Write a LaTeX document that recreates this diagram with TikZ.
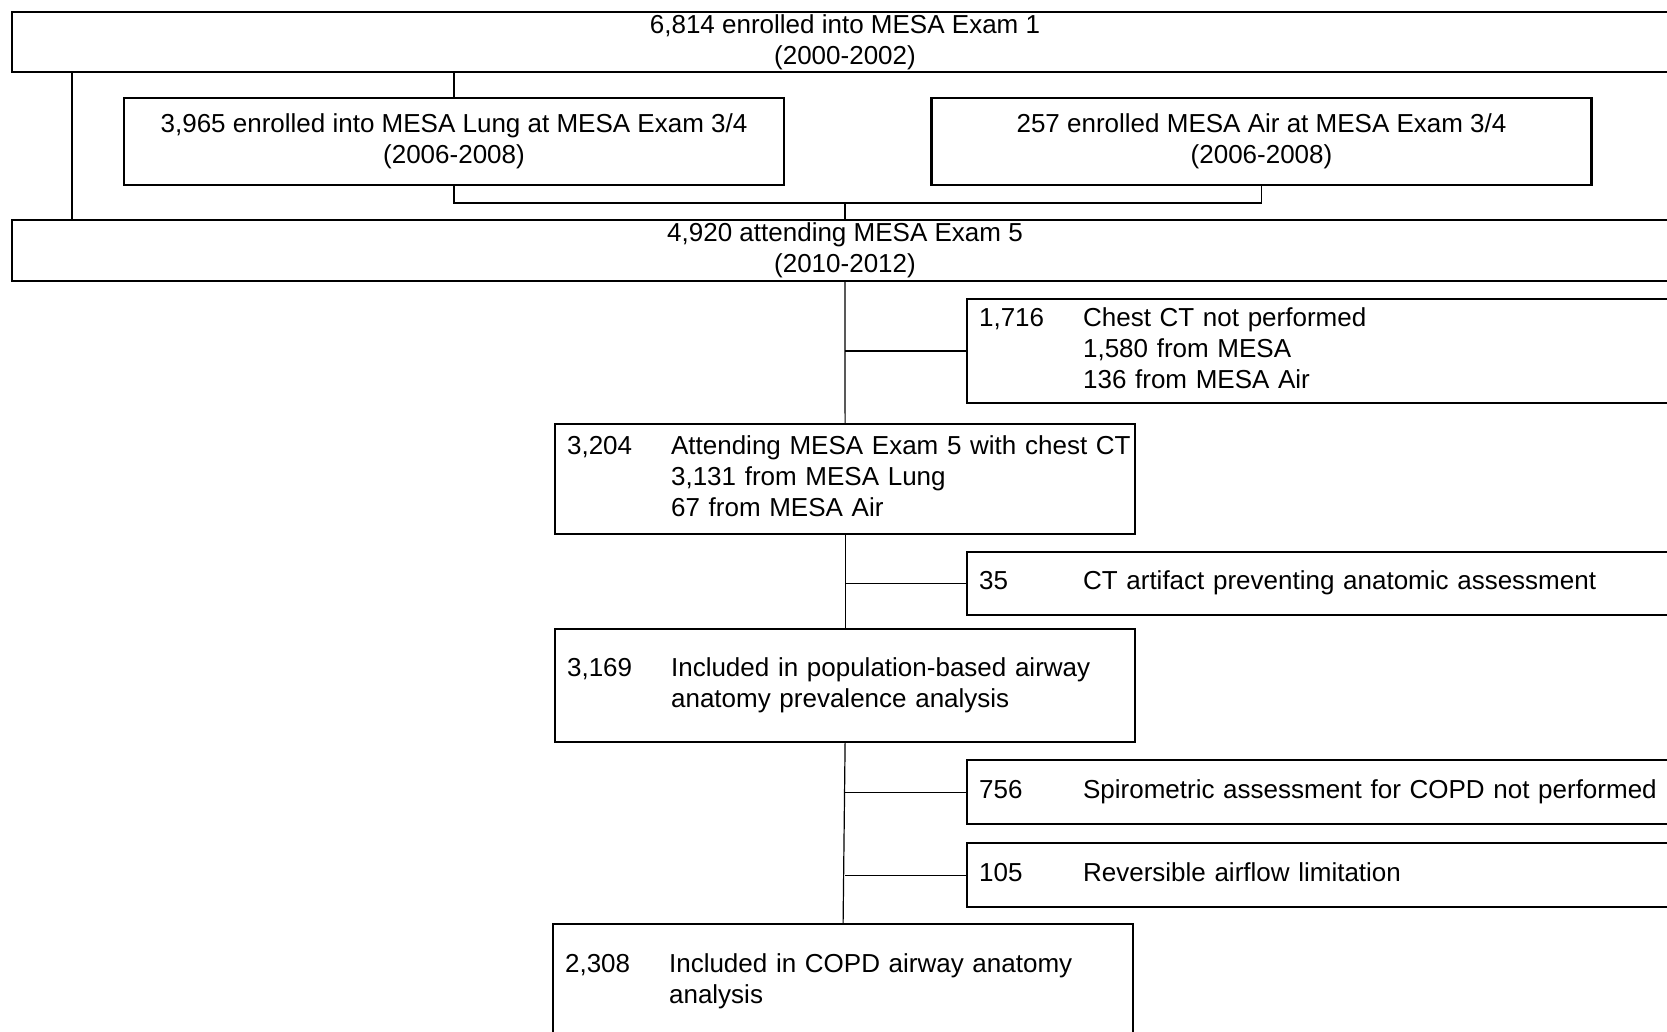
\documentclass[tikz,border=0pt]{standalone}
\usepackage{fontspec}
\setmainfont{Liberation Sans}
\usetikzlibrary{positioning}

\newcommand{\countrow}[2]{\makebox[52pt][l]{#1}\begin{tabular}[t]{@{}l@{}}#2\end{tabular}}

\begin{document}
\begin{tikzpicture}[x=0.5pt, y=-0.5pt,
    every node/.style={font=\fontsize{13}{15.5}\selectfont, inner ysep=1pt},
    headbox/.style={draw, line width=1.1pt, minimum width=833pt, align=center},
    studybox/.style={draw, line width=1.1pt, minimum width=330pt, minimum height=43.5pt, align=center},
    countbox/.style={draw, line width=1.1pt, anchor=north west, inner xsep=6pt, align=left},
    mainbox/.style={countbox, minimum width=290pt, text width=278pt},
    dropbox/.style={countbox, minimum width=380pt, text width=368pt},
    link/.style={line width=0.6pt}]

\useasboundingbox (0,0) rectangle (1667,1032);
\clip (0,0) rectangle (1667,1032);

% Exams
\node[headbox, minimum height=30pt] (enroll) at (845,42) {6,814 enrolled into MESA Exam 1\\(2000-2002)};
\node[studybox] (lung) at (454,141.5) {3,965 enrolled into MESA Lung at MESA Exam 3/4\\(2006-2008)};
\node[studybox] (air) at (1261.5,141.5) {257 enrolled MESA Air at MESA Exam 3/4\\(2006-2008)};
\node[headbox, minimum height=30.5pt] (exam5) at (845,250.5) {4,920 attending MESA Exam 5\\(2010-2012)};

% Included
\node[mainbox, minimum height=55pt] (withct) at (554,423)
    {\countrow{3,204}{Attending MESA Exam 5 with chest CT\\3,131 from MESA Lung\\67 from MESA Air}};
\node[mainbox, minimum height=56.5pt] (prev) at (554,628)
    {\countrow{3,169}{Included in population-based airway\\anatomy prevalence analysis}};
\node[mainbox, minimum height=58pt] (copd) at (552,923)
    {\countrow{2,308}{Included in COPD airway anatomy\\analysis}};

% Excluded
\node[dropbox, minimum height=52pt] (noct) at (966,298)
    {\countrow{1,716}{Chest CT not performed\\1,580 from MESA\\136 from MESA Air}};
\node[dropbox, minimum height=31.5pt] (artifact) at (966,551)
    {\countrow{35}{CT artifact preventing anatomic assessment}};
\node[dropbox, minimum height=32pt] (nospiro) at (966,759)
    {\countrow{756}{Spirometric assessment for COPD not performed}};
\node[dropbox, minimum height=32pt] (revers) at (966,842)
    {\countrow{105}{Reversible airflow limitation}};

% Connections
\coordinate (join) at (845,203);
\draw[link] ([xshift=30.5pt]enroll.south west) -- ([xshift=30.5pt]exam5.north west);
\draw[link] (lung.north |- enroll.south) -- (lung.north);
\draw[link] (lung.south) |- (join) -| (air.south);
\draw[link] (join) -- (exam5.north);
\draw[link] (exam5.south) -- (withct.north);
\draw[link] (withct.south) -- (prev.north);
\draw[link] (prev.south) -- (copd.north);
\draw[link] (exam5.south |- noct.west) -- (noct.west);
\draw[link] (withct.south |- artifact.west) -- (artifact.west);
\draw[link] (prev.south |- nospiro.west) -- (nospiro.west);
\draw[link] (prev.south |- revers.west) -- (revers.west);

\end{tikzpicture}
\end{document}
